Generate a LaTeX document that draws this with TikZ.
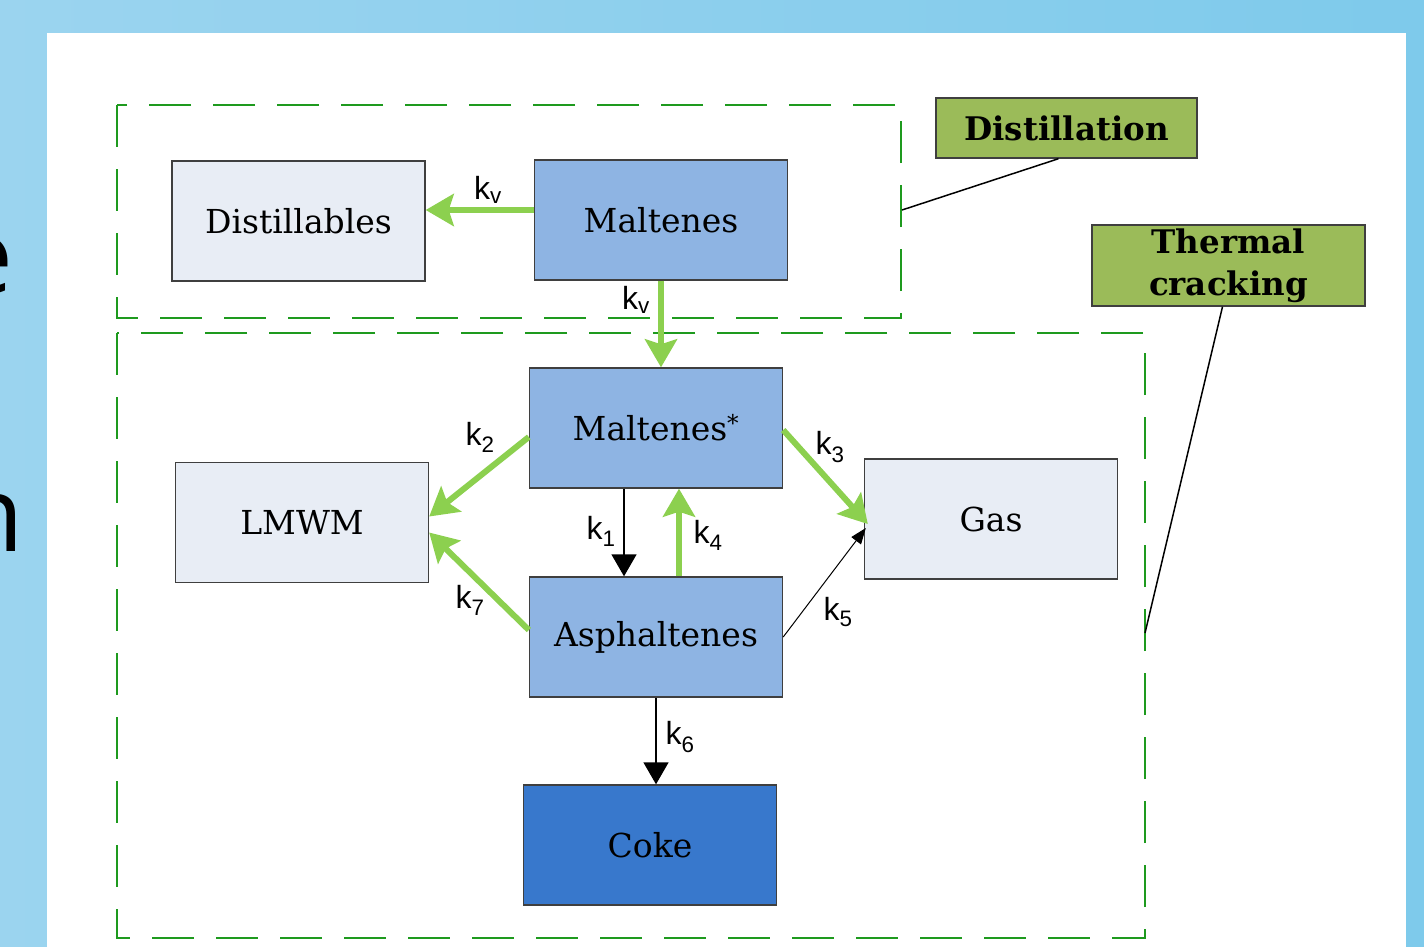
\documentclass[tikz,border=0pt]{standalone}
\usepackage{fontspec}
\setmainfont{DejaVu Serif}
\newfontfamily\ksans{Liberation Sans}
\newfontfamily\bigsans{Open Sans}
\usetikzlibrary{arrows.meta}
\definecolor{bgL}{HTML}{9BD4EF}
\definecolor{bgR}{HTML}{7ECAEB}
\definecolor{lightbox}{HTML}{E8EDF5}
\definecolor{midbox}{HTML}{8EB4E3}
\definecolor{darkbox}{HTML}{3878CC}
\definecolor{olive}{HTML}{9BBB59}
\definecolor{arrowgreen}{HTML}{8CD04F}
\definecolor{dashgreen}{HTML}{1E9A1E}
\definecolor{edgegray}{HTML}{3F3F3F}
\begin{document}
\begin{tikzpicture}[x=1pt,y=-1pt,
  box/.style={draw=edgegray,line width=1.4pt,minimum width=253pt,minimum height=120pt,inner sep=0pt,font=\fontsize{33}{38}\selectfont},
  lbl/.style={draw=edgegray,fill=olive,line width=1.4pt,inner sep=0pt,align=center,font=\bfseries\fontsize{32.5}{42}\selectfont},
  klab/.style={inner sep=0pt,font=\ksans\fontsize{32}{36}\selectfont},
  garrow/.style={draw=arrowgreen,line width=6pt,-{Stealth[length=28pt,width=32pt,inset=5pt]}},
  barrow/.style={draw=black,line width=1.5pt,-{Triangle[length=22pt,width=25pt]}},
  tarrow/.style={draw=black,line width=1pt,-{Triangle[length=16pt,width=12pt]}},
  dbox/.style={draw=dashgreen,line width=2.8pt,dash pattern=on 42pt off 22pt},
  leader/.style={draw=black,line width=1.5pt},
  bigletter/.style={anchor=base east,inner sep=0pt,font=\bigsans\fontsize{105}{110}\selectfont}
]
\useasboundingbox (0,0) rectangle (1424,946);
\clip (0,0) rectangle (1424,946);
\shade[left color=bgL,right color=bgR] (0,0) rectangle (1424,946);
\node[bigletter] (bige) at (14,293) {e};
\node[bigletter] (bign) at (24,551) {n};
\fill[white] (47,33) rectangle (1406,950);

% dashed groups
\draw[dbox] (117,105) rectangle (901,318);
\draw[dbox] (117,333) rectangle (1145,938);
\coordinate (dd) at (902,210);
\coordinate (tc) at (1145,633);

% boxes
\node[box,fill=lightbox] (dist) at (298.5,221) {Distillables};
\node[box,fill=midbox] (mal) at (661,220) {Maltenes};
\node[box,fill=midbox] (ms) at (656,428) {Maltenes\textsuperscript{*}};
\node[box,fill=lightbox] (lm) at (302,522.5) {LMWM};
\node[box,fill=lightbox] (gas) at (991,519) {Gas};
\node[box,fill=midbox] (as) at (656,637) {Asphaltenes};
\node[box,fill=darkbox] (co) at (650,845) {Coke};

% labels
\node[lbl,minimum width=261pt,minimum height=60pt] (distl) at (1066.5,128) {Distillation};
\node[lbl,minimum width=273pt,minimum height=81pt] (therm) at (1228.5,265.5) {Thermal\\cracking};
\draw[leader] ([xshift=-8pt]distl.south) -- (dd);
\draw[leader] ([xshift=-6pt]therm.south) -- (tc);

% arrows
\draw[garrow] ([yshift=10pt]mal.west) -- ([yshift=11pt]dist.east);
\draw[garrow] (mal.south) -- (mal.south |- ms.north);
\draw[garrow] ([yshift=-9pt]ms.west) -- ([yshift=6pt]lm.east);
\draw[garrow] ([yshift=-2pt]ms.east) -- ([xshift=4pt,yshift=-5pt]gas.west);
\draw[barrow] ([xshift=-32pt]ms.south) -- ([xshift=-32pt]as.north);
\draw[garrow] ([xshift=23pt]as.north) -- ([xshift=23pt]ms.south);
\draw[garrow] ([yshift=7pt]as.west) -- ([yshift=-10pt]lm.east);
\draw[tarrow] (as.east) -- ([xshift=2pt,yshift=-9pt]gas.west);
\draw[barrow] (as.south) -- (as.south |- co.north);

% rate constants
\node[klab] (kva) at (488,190) {k\textsubscript{v}};
\node[klab] (kvb) at (636,300) {k\textsubscript{v}};
\node[klab] (k2) at (480,437) {k\textsubscript{2}};
\node[klab] (k3) at (830,447) {k\textsubscript{3}};
\node[klab] (k1) at (601,531) {k\textsubscript{1}};
\node[klab] (k4) at (708,535) {k\textsubscript{4}};
\node[klab] (k7) at (470,600) {k\textsubscript{7}};
\node[klab] (k5) at (838,612) {k\textsubscript{5}};
\node[klab] (k6) at (680,737) {k\textsubscript{6}};
\end{tikzpicture}
\end{document}
